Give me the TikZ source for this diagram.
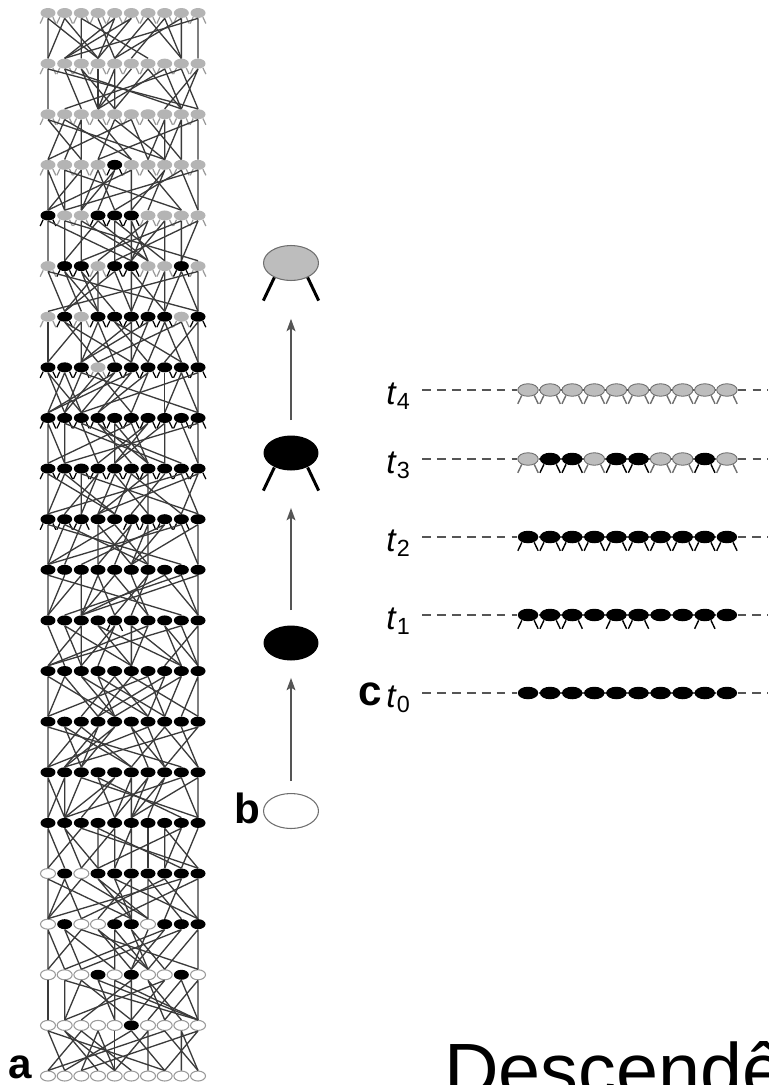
\documentclass[tikz,border=0pt]{standalone}
\usepackage{fontspec}
\setmainfont{Liberation Sans}
\usetikzlibrary{shapes.geometric,arrows.meta,backgrounds}

\definecolor{cellgray}{HTML}{B4B4B4}
\definecolor{beadgray}{HTML}{BDBDBD}
\definecolor{rimgray}{HTML}{6E6E6E}
\definecolor{eggline}{HTML}{9A9A9A}
\definecolor{linkgray}{HTML}{3A3A3A}
\definecolor{dashgray}{HTML}{555555}

% two legs under a body
\newcommand{\legs}[3]{%
  \draw[#3] (#1.221) -- ++({-0.2*#2},{0.42*#2});
  \draw[#3] (#1.319) -- ++({0.2*#2},{0.42*#2});}

\tikzset{
  cell/.style={ellipse, inner sep=0pt, minimum width=0.3cm, minimum height=0.2cm},
  cellG/.style={cell, fill=cellgray},
  cellB/.style={cell, fill=black},
  cellE/.style={cell, fill=black},
  cellW/.style={cell, draw=eggline, fill=white, line width=0.6pt},
  leggray/.style={draw=cellgray!85!black, line width=0.7pt},
  legblack/.style={draw=black, line width=0.7pt},
  link/.style={draw=linkgray, line width=0.75pt},
  bead/.style={ellipse, inner sep=0pt, minimum width=0.41cm, minimum height=0.25cm},
  beadG/.style={bead, fill=beadgray, draw=rimgray, line width=0.5pt},
  beadB/.style={bead, fill=black},
  beadE/.style={bead, fill=black},
  beadleggray/.style={draw=rimgray, line width=0.8pt},
  beadlegblack/.style={draw=black, line width=0.8pt},
  dashline/.style={draw=dashgray, line width=0.8pt, dash pattern=on 5pt off 3.5pt},
  big/.style={ellipse, inner sep=0pt, minimum width=1.1cm, minimum height=0.7cm, line width=0.6pt},
  bigW/.style={big, draw=rimgray, fill=white},
  bigE/.style={big, fill=black},
  bigB/.style={big, fill=black},
  bigG/.style={big, draw=rimgray, fill=beadgray},
  bigleg/.style={draw=black, line width=1.7pt},
  arr/.style={-{Stealth[length=7pt,width=5pt,inset=1.5pt]}, draw=dashgray, line width=1.1pt},
  panel/.style={font=\bfseries\fontsize{24}{28}\selectfont, inner sep=0pt, anchor=base east},
  tlab/.style={font=\fontsize{19}{22}\selectfont, inner sep=0pt, anchor=base east}
}

\begin{document}
\begin{tikzpicture}[x=0.02cm, y=-0.02cm]
  \useasboundingbox (0,0) rectangle (768,1085);
  \clip (0,0) rectangle (768,1085);

  % a: generations, top to bottom
  \foreach \r/\kinds in {
      0/{G,G,G,G,G,G,G,G,G,G}, 1/{G,G,G,G,G,G,G,G,G,G},
      2/{G,G,G,G,G,G,G,G,G,G}, 3/{G,G,G,G,B,G,G,G,G,G},
      4/{B,G,G,B,B,B,G,G,G,G}, 5/{G,B,B,G,B,B,G,G,B,G},
      6/{G,B,G,B,B,B,B,B,G,B}, 7/{B,B,B,G,B,B,B,B,B,B},
      8/{B,B,B,B,B,B,B,B,B,B}, 9/{B,B,B,B,B,B,B,B,B,B},
      10/{B,B,B,E,E,B,B,B,B,E}, 11/{E,E,E,E,E,E,E,E,E,E},
      12/{E,E,E,E,B,E,E,E,E,E}, 13/{E,E,E,E,E,E,E,E,E,E},
      14/{E,E,E,E,E,E,E,E,E,E}, 15/{E,E,E,E,E,E,E,E,E,E},
      16/{E,E,E,E,E,E,E,E,E,E}, 17/{W,E,W,E,E,E,E,E,E,E},
      18/{W,E,W,W,E,E,W,E,E,E}, 19/{W,W,W,E,W,E,W,W,E,W},
      20/{W,W,W,W,W,E,W,W,W,W}, 21/{W,W,W,W,W,W,W,W,W,W}} {
    \foreach \k [count=\c from 0] in \kinds {
      \node[cell\k] (n\r-\c) at ({48+16.67*\c},{13+50.62*\r}) {};
      \if\k G\legs{n\r-\c}{15}{leggray}\fi
      \if\k B\legs{n\r-\c}{15}{legblack}\fi
    }
  }

  \pgfmathsetseed{11}
  \foreach \r in {0,...,20} {
    \pgfmathtruncatemacro{\s}{\r+1}
    \foreach \c in {0,...,9} {
      \pgfmathtruncatemacro{\ka}{min(9,max(0,\c+random(0,4)-2))}
      \pgfmathtruncatemacro{\kb}{random(0,9)}
      \draw[link] (n\r-\c.south) -- (n\s-\ka.north) (n\r-\c.south) -- (n\s-\kb.north);
    }
  }

  % b: one individual
  \node[bigW] (egg) at (291,811) {};
  \node[bigE] (egg2) at (291,643) {};
  \node[bigB] (larva) at (291,453) {};
  \legs{larva}{55}{bigleg}
  \node[bigG] (imago) at (291,263) {};
  \legs{imago}{55}{bigleg}
  \draw[arr, shorten <=6.8pt, shorten >=9.6pt] (egg) -- (egg2);
  \draw[arr, shorten <=8.5pt, shorten >=21pt] (egg2) -- (larva);
  \draw[arr, shorten <=8.5pt, shorten >=21.5pt] (larva) -- (imago);

  % c: time slices
  \foreach \i/\y/\kinds in {
      4/390/{G,G,G,G,G,G,G,G,G,G}, 3/459/{G,B,B,G,B,B,G,G,B,G},
      2/537/{B,B,B,B,B,B,B,B,B,B}, 1/615/{B,B,B,E,B,B,E,E,B,E},
      0/693/{E,E,E,E,E,E,E,E,E,E}} {
    \node[tlab] (t\i) at (411,\y+14) {\textit{t}\textsubscript{\i}};
    \coordinate (d\i) at (422,\y);
    \coordinate (e\i) at (768,\y);
    \foreach \k [count=\c from 0] in \kinds {
      \node[bead\k] (s\i-\c) at ({528+22.1*\c},\y) {};
      \if\k G\legs{s\i-\c}{20}{beadleggray}\fi
      \if\k B\legs{s\i-\c}{20}{beadlegblack}\fi
    }
    \begin{pgfonlayer}{background}
      \draw[dashgray, line width=0.8pt] (s\i-0) -- (s\i-9);
    \end{pgfonlayer}
    \draw[dashline] (d\i) -- (s\i-0.west);
    \draw[dashline] (s\i-9.east) -- (e\i);
  }

  \node[panel] (pa) at (32,1078) {a};
  \node[panel] (pb) at (261,823) {b};
  \node[panel] (pc) at (382,705) {c};
  \node[inner sep=0pt, anchor=base west, font=\fontsize{43}{50}\selectfont] (desc) at (444,1096) {Descendê};
\end{tikzpicture}
\end{document}
